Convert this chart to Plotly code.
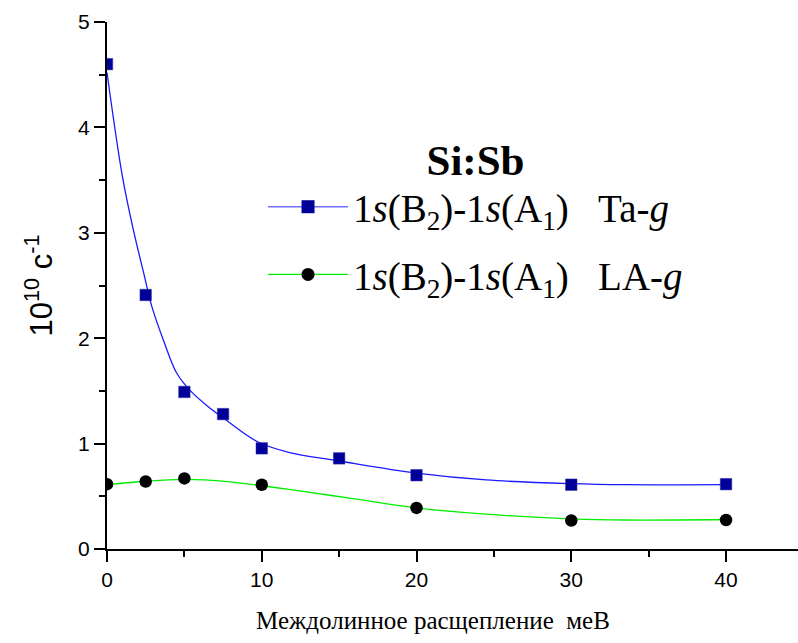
import plotly.graph_objects as go

# Measured data points
split_ta = [0, 2.5, 5, 7.5, 10, 15, 20, 30, 40]
rate_ta = [4.60, 2.41, 1.49, 1.28, 0.955, 0.86, 0.70, 0.61, 0.615]

split_la = [0, 2.5, 5, 10, 20, 30, 40]
rate_la = [0.615, 0.64, 0.67, 0.61, 0.39, 0.27, 0.275]

# Fitted curves
fit_ta_x = [0, 1.0, 1.7, 2.4, 2.9, 3.7, 4.5, 5.4, 6.5, 7.5, 9.7, 11.8, 15, 20, 24.5, 30, 33.5, 40]
fit_ta_y = [4.52, 3.53, 3.03, 2.60, 2.30, 1.96, 1.67, 1.50, 1.355, 1.245, 1.02, 0.915, 0.835, 0.72, 0.655, 0.62, 0.61, 0.61]

fit_la_x = [0, 2.5, 5, 7.8, 10, 12, 16, 20, 24.5, 30, 33.5, 40]
fit_la_y = [0.61, 0.643, 0.66, 0.64, 0.60, 0.56, 0.476, 0.39, 0.33, 0.286, 0.275, 0.28]

x_ticks = [0, 10, 20, 30, 40]
y_ticks = [0, 1, 2, 3, 4, 5]

SERIF = "Liberation Serif"
SANS = "Liberation Sans"
BLUE_LINE = "#1a1aff"
NAVY = "#000099"
GREEN = "#00ee00"

label_ta = "1<i>s</i>(B<sub>2</sub>)-1<i>s</i>(A<sub>1</sub>)\u00a0\u00a0\u00a0Ta-<i>g</i>"
label_la = "1<i>s</i>(B<sub>2</sub>)-1<i>s</i>(A<sub>1</sub>)\u00a0\u00a0\u00a0LA-<i>g</i>"

fig = go.Figure()

fig.add_trace(go.Scatter(x=fit_ta_x, y=fit_ta_y, mode="lines",
                         line=dict(color=BLUE_LINE, width=1.3, shape="spline", smoothing=1),
                         showlegend=False, hoverinfo="skip"))
fig.add_trace(go.Scatter(x=fit_la_x, y=fit_la_y, mode="lines",
                         line=dict(color=GREEN, width=1.3, shape="spline", smoothing=1),
                         showlegend=False, hoverinfo="skip"))
fig.add_trace(go.Scatter(x=split_ta, y=rate_ta, mode="markers",
                         marker=dict(symbol="square", size=11.5, color=NAVY,
                                     line=dict(color="#3333aa", width=0.5)),
                         showlegend=False))
fig.add_trace(go.Scatter(x=split_la, y=rate_la, mode="markers",
                         marker=dict(symbol="circle", size=12.5, color="black"),
                         showlegend=False))

# legend entries
fig.add_trace(go.Scatter(x=[None], y=[None], mode="lines+markers", name=label_ta,
                         legendgroup="ta",
                         line=dict(color="#7070ff", width=1.5),
                         marker=dict(symbol="square", size=13, color=NAVY)))
fig.add_trace(go.Scatter(x=[None], y=[None], mode="lines+markers", name=label_la,
                         legendgroup="la",
                         line=dict(color=GREEN, width=1.3),
                         marker=dict(symbol="circle", size=13, color="black")))

fig.update_layout(
    width=798, height=643,
    margin=dict(l=107, r=0, t=22, b=94),
    paper_bgcolor="white", plot_bgcolor="white",
    font=dict(family=SERIF, color="black"),
    xaxis=dict(range=[0, 44.65], tickvals=x_ticks, ticktext=[str(v) for v in x_ticks],
               showgrid=False, zeroline=False, showline=True, linecolor="black", linewidth=2,
               ticks="outside", ticklen=11, tickwidth=2, tickcolor="black",
               tickfont=dict(family=SANS, size=21, color="black"),
               minor=dict(ticks="outside", ticklen=6, tickwidth=2, tickcolor="black",
                          dtick=5, tick0=0)),
    yaxis=dict(range=[0, 5], tickvals=y_ticks, ticktext=[str(v) for v in y_ticks],
               showgrid=False, zeroline=False, showline=True, linecolor="black", linewidth=2,
               ticks="outside", ticklen=11, tickwidth=2, tickcolor="black",
               tickfont=dict(family=SANS, size=21, color="black"),
               minor=dict(ticks="outside", ticklen=6, tickwidth=2, tickcolor="black",
                          dtick=0.5, tick0=0),
               title=dict(text="10<sup>10</sup> с<sup>-1</sup>",
                          font=dict(family=SANS, size=31, color="black"), standoff=16)),
    legend=dict(x=0.2258, y=0.816, xanchor="left", yanchor="top",
                bgcolor="rgba(0,0,0,0)", borderwidth=0,
                font=dict(family=SERIF, size=39, color="black"),
                itemwidth=80, tracegroupgap=14, traceorder="grouped",
                title=dict(text="<b>Si:Sb</b>", side="top center",
                           font=dict(family=SERIF, size=43, color="black"))),
    annotations=[dict(text="Междолинное расщепление\u00a0\u00a0меВ",
                      xref="paper", yref="paper", x=0.472, y=-0.135,
                      xanchor="center", yanchor="middle", showarrow=False,
                      font=dict(family=SERIF, size=25, color="black"))],
)

fig.write_html("out.html")
